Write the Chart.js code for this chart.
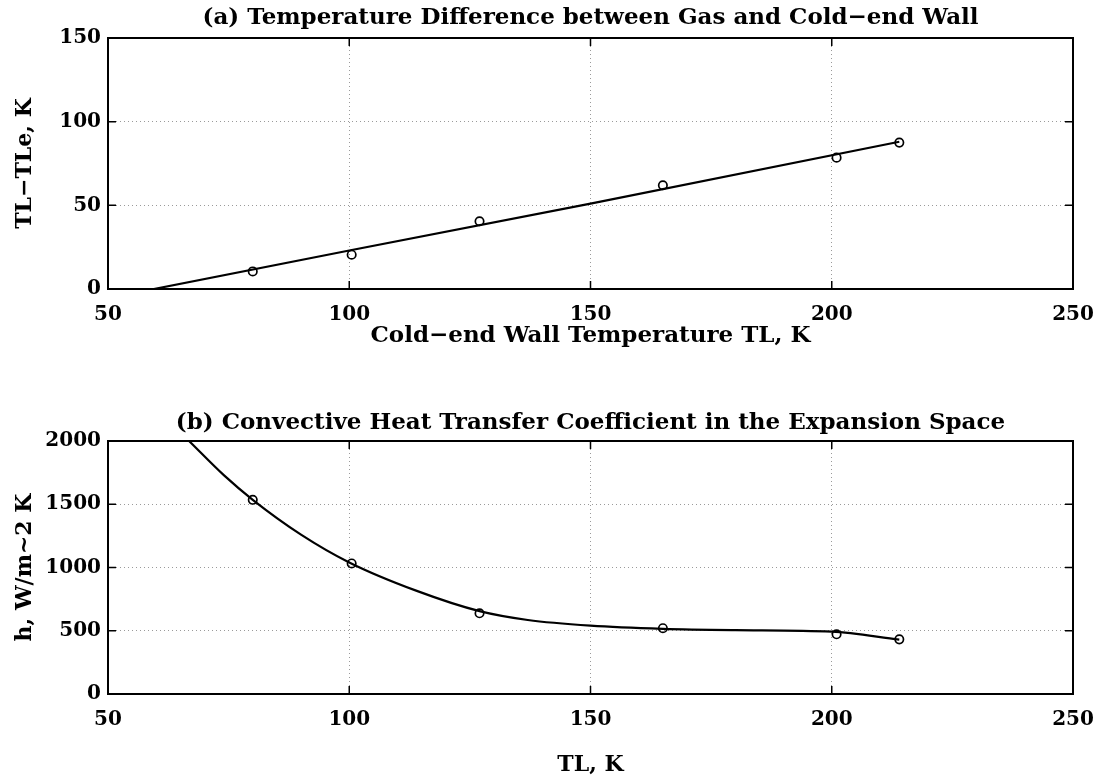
<!DOCTYPE html>
<html>
<head>
<meta charset="utf-8">
<script src="https://cdn.jsdelivr.net/npm/chart.js@4/dist/chart.umd.min.js"></script>
<style>
  html, body { margin: 0; padding: 0; background: #fff; }
  #wrap { position: relative; width: 1101px; height: 778px; }
  .panel { position: absolute; left: 0; }
</style>
</head>
<body>
<div id="wrap">
  <canvas id="top" class="panel" width="1101" height="380" style="top:0"></canvas>
  <canvas id="bottom" class="panel" width="1101" height="398" style="top:380px"></canvas>
</div>
<script>
// (a) measured points and fitted line
const tempPointsX = [80, 100.5, 127, 165, 201, 214];
const tempDiffPoints = [10.5, 20.5, 40.5, 62, 78.5, 87.5];
const tempFitX = [59.5, 100, 150, 214];
const tempFitY = [0, 23, 51, 88];

// (b) heat transfer coefficient points and curve
const hPointsX = [80, 100.5, 127, 165, 201, 214];
const hPoints = [1535, 1032, 638, 520, 472, 432];
const hCurveX = [66.8, 74, 80, 90, 100, 114, 127, 137, 150, 165, 180, 200, 214];
const hCurveY = [2000, 1730, 1535, 1260, 1040, 815, 655, 585, 540, 515, 505, 493, 430];

const xTicks = [50, 100, 150, 200, 250];
const yTicksA = [0, 50, 100, 150];
const yTicksB = [0, 500, 1000, 1500, 2000];

const FONT = '"DejaVu Serif", "Liberation Serif", serif';

function pts(xs, ys) {
  return xs.map((x, i) => ({x, y: ys[i]}));
}

// box round the plot area plus short inward ticks, matlab style
const framePlugin = {
  id: 'frame',
  afterDatasetsDraw(chart) {
    const {ctx, chartArea: a, scales} = chart;
    ctx.save();
    ctx.strokeStyle = '#000';
    ctx.lineWidth = 2;
    ctx.strokeRect(a.left, a.top, a.right - a.left, a.bottom - a.top);
    ctx.lineWidth = 1.5;
    const len = 8;
    scales.x.ticks.forEach(t => {
      const px = scales.x.getPixelForValue(t.value);
      ctx.beginPath();
      ctx.moveTo(px, a.bottom); ctx.lineTo(px, a.bottom - len);
      ctx.moveTo(px, a.top); ctx.lineTo(px, a.top + len);
      ctx.stroke();
    });
    scales.y.ticks.forEach(t => {
      const py = scales.y.getPixelForValue(t.value);
      ctx.beginPath();
      ctx.moveTo(a.left, py); ctx.lineTo(a.left + len, py);
      ctx.moveTo(a.right, py); ctx.lineTo(a.right - len, py);
      ctx.stroke();
    });
    ctx.restore();
  }
};

// title centred over the plot area (chart.js centres it on the whole canvas)
const panelTitle = {
  id: 'panelTitle',
  afterDraw(chart, args, opts) {
    const {ctx, chartArea: a} = chart;
    ctx.save();
    ctx.fillStyle = '#000';
    ctx.font = `bold ${opts.size}px ${FONT}`;
    ctx.textAlign = 'center';
    ctx.textBaseline = 'middle';
    ctx.fillText(opts.text, (a.left + a.right) / 2, opts.y);
    ctx.restore();
  }
};

function makeChart(id, opts) {
  const {title, titleY, top, xTitle, xTitleSize, xTitlePad, xHeight, yTitle, yMax, yTicks,
         pointsX, pointsY, lineX, lineY, tension} = opts;
  const tickFont = {family: FONT, size: 20, weight: 'bold'};
  return new Chart(document.getElementById(id), {
    type: 'scatter',
    data: {
      datasets: [
        {
          data: pts(lineX, lineY),
          showLine: true,
          borderColor: '#000',
          borderWidth: 2.2,
          pointRadius: 0,
          cubicInterpolationMode: tension ? 'monotone' : 'default',
          tension: 0
        },
        {
          data: pts(pointsX, pointsY),
          showLine: false,
          pointStyle: 'circle',
          pointRadius: 4.2,
          pointBorderWidth: 1.7,
          pointBorderColor: '#000',
          pointBackgroundColor: 'rgba(255,255,255,0)'
        }
      ]
    },
    options: {
      responsive: false,
      animation: false,
      layout: {padding: {left: 0, right: 28, top: top, bottom: 0}},
      plugins: {
        legend: {display: false},
        tooltip: {enabled: false},
        title: {display: false},
        panelTitle: {text: title, y: titleY, size: 23}
      },
      scales: {
        x: {
          type: 'linear',
          min: 50,
          max: 250,
          afterBuildTicks: s => { s.ticks = xTicks.map(v => ({value: v})); },
          afterFit: s => { s.height = xHeight; s.paddingLeft = 0; s.paddingRight = 0; },
          ticks: {color: '#000', padding: 14, font: tickFont, callback: v => String(v)},
          grid: {
            color: ctx => (ctx.tick && (ctx.tick.value === 50 || ctx.tick.value === 250)) ? 'rgba(0,0,0,0)' : '#9a9a9a',
            lineWidth: 1,
            drawTicks: false
          },
          border: {display: false, dash: [1, 3]},
          title: {
            display: true,
            text: xTitle,
            color: '#000',
            font: {family: FONT, size: xTitleSize, weight: 'bold'},
            padding: {top: 0, bottom: xTitlePad}
          }
        },
        y: {
          type: 'linear',
          min: 0,
          max: yMax,
          afterBuildTicks: s => { s.ticks = yTicks.map(v => ({value: v})); },
          afterFit: s => { s.width = 108; s.paddingTop = 0; s.paddingBottom = 0; },
          ticks: {color: '#000', padding: 7, font: tickFont, callback: v => String(v)},
          grid: {
            color: ctx => (ctx.tick && (ctx.tick.value === 0 || ctx.tick.value === yMax)) ? 'rgba(0,0,0,0)' : '#9a9a9a',
            lineWidth: 1,
            drawTicks: false
          },
          border: {display: false, dash: [1, 3]},
          title: {
            display: true,
            text: yTitle,
            color: '#000',
            font: {family: FONT, size: 22, weight: 'bold'},
            padding: {top: 12, bottom: 0}
          }
        }
      }
    },
    plugins: [framePlugin, panelTitle]
  });
}

makeChart('top', {
  title: '(a) Temperature Difference between Gas and Cold\u2212end Wall',
  titleY: 18,
  top: 38,
  xTitle: 'Cold\u2212end Wall Temperature TL, K',
  xTitleSize: 23,
  xTitlePad: 30,
  xHeight: 91,
  yTitle: 'TL\u2212TLe, K',
  yMax: 150,
  yTicks: yTicksA,
  pointsX: tempPointsX,
  pointsY: tempDiffPoints,
  lineX: tempFitX,
  lineY: tempFitY,
  tension: false
});

makeChart('bottom', {
  title: '(b) Convective Heat Transfer Coefficient in the Expansion Space',
  titleY: 43,
  top: 61,
  xTitle: 'TL, K',
  xTitleSize: 22,
  xTitlePad: 0,
  xHeight: 84,
  yTitle: 'h, W/m~2 K',
  yMax: 2000,
  yTicks: yTicksB,
  pointsX: hPointsX,
  pointsY: hPoints,
  lineX: hCurveX,
  lineY: hCurveY,
  tension: true
});
</script>
</body>
</html>
